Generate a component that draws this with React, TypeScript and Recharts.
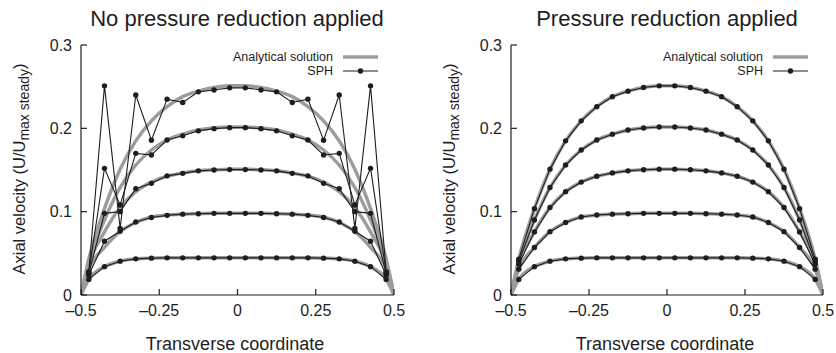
import { LineChart, Line, XAxis, YAxis } from "recharts";

const FONT = "'Liberation Sans', Arial, Helvetica, sans-serif";
const INK = "#1e1e1e";
const GREY = "#9c9c9c";

// transverse positions of the SPH particles and of the analytical profile
const X_SPH = [
  -0.475, -0.425, -0.375, -0.325, -0.275, -0.225, -0.175, -0.125, -0.075, -0.025,
  0.025, 0.075, 0.125, 0.175, 0.225, 0.275, 0.325, 0.375, 0.425, 0.475,
];
const X_ANALYTICAL = [
  -0.5, -0.475, -0.425, -0.375, -0.325, -0.275, -0.225, -0.175, -0.125, -0.075, -0.025,
  0.025, 0.075, 0.125, 0.175, 0.225, 0.275, 0.325, 0.375, 0.425, 0.475, 0.5,
];

// analytical velocity profiles (5 time instants)
const ANALYTICAL_1 = [0, 0.0187, 0.034, 0.0406, 0.0434, 0.0442, 0.0446, 0.0446, 0.0446, 0.0446, 0.0446, 0.0446, 0.0446, 0.0446, 0.0446, 0.0446, 0.0442, 0.0434, 0.0406, 0.034, 0.0187, 0];
const ANALYTICAL_2 = [0, 0.031, 0.057, 0.076, 0.087, 0.0936, 0.096, 0.097, 0.0975, 0.098, 0.098, 0.098, 0.098, 0.0975, 0.097, 0.096, 0.0936, 0.087, 0.076, 0.057, 0.031, 0];
const ANALYTICAL_3 = [0, 0.037, 0.0757, 0.105, 0.124, 0.1355, 0.1425, 0.1465, 0.149, 0.1503, 0.151, 0.151, 0.1503, 0.149, 0.1465, 0.1425, 0.1355, 0.124, 0.105, 0.0757, 0.037, 0];
const ANALYTICAL_4 = [0, 0.04, 0.09, 0.129, 0.156, 0.174, 0.186, 0.193, 0.198, 0.2004, 0.2016, 0.2016, 0.2004, 0.198, 0.193, 0.186, 0.174, 0.156, 0.129, 0.09, 0.04, 0];
const ANALYTICAL_5 = [0, 0.043, 0.1036, 0.151, 0.185, 0.209, 0.226, 0.238, 0.2446, 0.249, 0.251, 0.251, 0.249, 0.2446, 0.238, 0.226, 0.209, 0.185, 0.151, 0.1036, 0.043, 0];

// SPH, no pressure reduction (noisy near the walls)
const SPH_RAW_1 = [0.0187, 0.034, 0.0406, 0.0434, 0.0442, 0.0446, 0.0446, 0.0446, 0.0446, 0.0446, 0.0446, 0.0446, 0.0446, 0.0446, 0.0446, 0.0442, 0.0434, 0.0406, 0.034, 0.0187];
const SPH_RAW_2 = [0.024, 0.0645, 0.0765, 0.0876, 0.093, 0.0956, 0.097, 0.0975, 0.098, 0.098, 0.098, 0.098, 0.0975, 0.097, 0.0956, 0.093, 0.0876, 0.0765, 0.0645, 0.024];
const SPH_RAW_3 = [0.026, 0.098, 0.1, 0.1275, 0.134, 0.143, 0.146, 0.149, 0.15, 0.1505, 0.1505, 0.15, 0.149, 0.146, 0.143, 0.134, 0.1275, 0.1, 0.098, 0.026];
const SPH_RAW_4 = [0.027, 0.152, 0.108, 0.17, 0.168, 0.186, 0.191, 0.197, 0.1996, 0.2008, 0.2008, 0.1996, 0.197, 0.191, 0.186, 0.168, 0.17, 0.108, 0.152, 0.027];
const SPH_RAW_5 = [0.028, 0.251, 0.08, 0.24, 0.1857, 0.235, 0.231, 0.2438, 0.246, 0.2486, 0.2486, 0.246, 0.2438, 0.231, 0.235, 0.1857, 0.24, 0.08, 0.251, 0.028];

// SPH with pressure reduction
const SPH_RED_1 = [0.0187, 0.034, 0.0406, 0.0434, 0.0442, 0.0446, 0.0446, 0.0446, 0.0446, 0.0446, 0.0446, 0.0446, 0.0446, 0.0446, 0.0446, 0.0442, 0.0434, 0.0406, 0.034, 0.0187];
const SPH_RED_2 = [0.031, 0.057, 0.076, 0.087, 0.0936, 0.096, 0.097, 0.0975, 0.098, 0.098, 0.098, 0.098, 0.0975, 0.097, 0.096, 0.0936, 0.087, 0.076, 0.057, 0.031];
const SPH_RED_3 = [0.037, 0.0757, 0.105, 0.124, 0.1355, 0.1425, 0.1465, 0.149, 0.1503, 0.151, 0.151, 0.1503, 0.149, 0.1465, 0.1425, 0.1355, 0.124, 0.105, 0.0757, 0.037];
const SPH_RED_4 = [0.04, 0.09, 0.129, 0.156, 0.174, 0.186, 0.193, 0.198, 0.2004, 0.2016, 0.2016, 0.2004, 0.198, 0.193, 0.186, 0.174, 0.156, 0.129, 0.09, 0.04];
const SPH_RED_5 = [0.043, 0.1036, 0.151, 0.185, 0.209, 0.226, 0.238, 0.2446, 0.249, 0.251, 0.251, 0.249, 0.2446, 0.238, 0.226, 0.209, 0.185, 0.151, 0.1036, 0.043];

const X_TICKS = [-0.5, -0.25, 0, 0.25, 0.5];
const Y_TICKS = [0, 0.1, 0.2, 0.3];

const ANALYTICAL = [ANALYTICAL_1, ANALYTICAL_2, ANALYTICAL_3, ANALYTICAL_4, ANALYTICAL_5];
const SPH_RAW = [SPH_RAW_1, SPH_RAW_2, SPH_RAW_3, SPH_RAW_4, SPH_RAW_5];
const SPH_RED = [SPH_RED_1, SPH_RED_2, SPH_RED_3, SPH_RED_4, SPH_RED_5];

const toPoints = (xs: number[], ys: number[]) => xs.map((x, i) => ({ x, y: ys[i] }));

const fmtX = (v: number) => (v < 0 ? "\u2013" + Math.abs(v) : String(v));
const fmtY = (v: number) => (v === 0 ? "0" : v.toFixed(1));

function Panel({ sph, marginLeft, marginRight }: { sph: number[][]; marginLeft: number; marginRight: number }) {
  return (
    <LineChart
      width={418}
      height={353}
      margin={{ top: 45, right: marginRight, bottom: 28, left: marginLeft }}
    >
      <XAxis
        type="number"
        dataKey="x"
        domain={[-0.5, 0.5]}
        ticks={X_TICKS}
        interval={0}
        allowDataOverflow
        tickFormatter={fmtX}
        tickSize={-6}
        tickMargin={16}
        height={30}
        axisLine={{ stroke: INK, strokeWidth: 1.2 }}
        tickLine={{ stroke: INK, strokeWidth: 1.2 }}
        tick={{ fill: INK, fontSize: 16, fontFamily: FONT }}
      />
      <YAxis
        type="number"
        dataKey="y"
        domain={[0, 0.3]}
        ticks={Y_TICKS}
        interval={0}
        allowDataOverflow
        tickFormatter={fmtY}
        tickSize={-6}
        tickMargin={15}
        width={40}
        axisLine={{ stroke: INK, strokeWidth: 1.2 }}
        tickLine={{ stroke: INK, strokeWidth: 1.2 }}
        tick={{ fill: INK, fontSize: 16, fontFamily: FONT }}
      />
      {ANALYTICAL.map((ys, i) => (
        <Line
          key={"a" + i}
          data={toPoints(X_ANALYTICAL, ys)}
          dataKey="y"
          type="monotone"
          stroke={GREY}
          strokeWidth={3.5}
          dot={false}
          isAnimationActive={false}
        />
      ))}
      {sph.map((ys, i) => (
        <Line
          key={"s" + i}
          data={toPoints(X_SPH, ys)}
          dataKey="y"
          type="linear"
          stroke={INK}
          strokeWidth={1.1}
          dot={{ r: 2.7, fill: INK, stroke: INK, strokeWidth: 0 }}
          isAnimationActive={false}
        />
      ))}
    </LineChart>
  );
}

function Texts({ cx, title, yLabelX, legendRight }: { cx: number; title: string; yLabelX: number; legendRight: number }) {
  return (
    <g fontFamily={FONT} fill={INK}>
      <text x={cx} y={26} fontSize={22} textAnchor="middle">{title}</text>
      <text x={cx - 2} y={350} fontSize={18} textAnchor="middle">Transverse coordinate</text>
      <text transform={`translate(${yLabelX},169) rotate(-90)`} fontSize={16.5} textAnchor="middle">
        Axial velocity (U/U
        <tspan fontSize={14} dy={4}>max steady</tspan>
        <tspan dy={-4}>)</tspan>
      </text>
      <text x={legendRight} y={61} fontSize={12.5} textAnchor="end">Analytical solution</text>
      <line x1={legendRight + 10} x2={legendRight + 45} y1={57} y2={57} stroke={GREY} strokeWidth={3.5} />
      <text x={legendRight} y={75} fontSize={12.5} textAnchor="end">SPH</text>
      <line x1={legendRight + 10} x2={legendRight + 45} y1={71} y2={71} stroke={INK} strokeWidth={1.1} />
      <circle cx={legendRight + 27.5} cy={71} r={2.7} fill={INK} />
    </g>
  );
}

export default function App() {
  return (
    <div style={{ position: "absolute", left: 0, top: 0, width: 836, height: 353, background: "#fff" }}>
      <div style={{ position: "absolute", left: 0, top: 0 }}>
        <Panel sph={SPH_RAW} marginLeft={41} marginRight={24} />
      </div>
      <div style={{ position: "absolute", left: 418, top: 0 }}>
        <Panel sph={SPH_RED} marginLeft={53} marginRight={13} />
      </div>
      <svg width={836} height={353} style={{ position: "absolute", left: 0, top: 0, pointerEvents: "none" }}>
        <Texts cx={237} title="No pressure reduction applied" yLabelX={25} legendRight={333} />
        <Texts cx={667} title="Pressure reduction applied" yLabelX={455} legendRight={763} />
      </svg>
    </div>
  );
}
